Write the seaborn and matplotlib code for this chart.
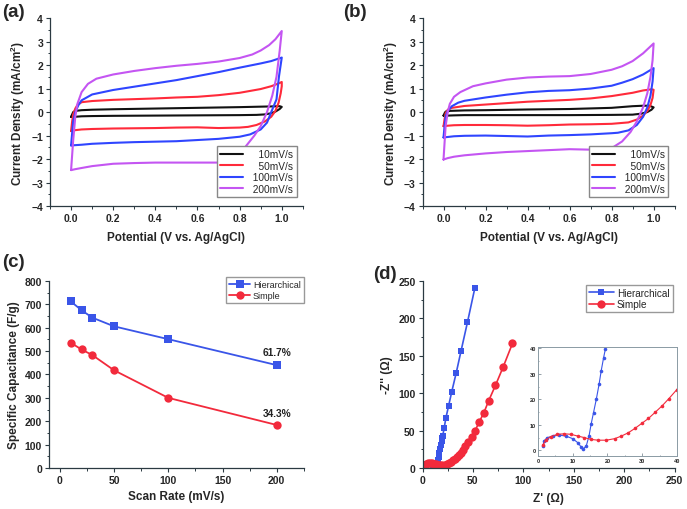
import numpy as np
import pandas as pd
import seaborn as sns
import matplotlib.pyplot as plt
from matplotlib.ticker import MultipleLocator

sns.set_theme(style="ticks")
plt.rcParams['font.family'] = ['Liberation Sans', 'DejaVu Sans']
plt.rcParams['mathtext.fontset'] = 'custom'
plt.rcParams['mathtext.rm'] = 'Liberation Sans'
plt.rcParams['mathtext.bf'] = 'Liberation Sans:bold'

# ---- (a) CV loops, hierarchical electrode ----
a10_v = [0.0, 0.005, 0.01, 0.02, 0.05, 0.1, 0.2, 0.4, 0.6, 0.8, 0.9, 0.95, 0.99, 1.0,
         0.99, 0.97, 0.95, 0.92, 0.88, 0.8, 0.6, 0.4, 0.2, 0.1, 0.05, 0.02, 0.0]
a10_j = [-0.2, -0.1, 0.0, 0.05, 0.08, 0.1, 0.12, 0.15, 0.18, 0.21, 0.23, 0.24, 0.25, 0.22,
         0.13, 0.02, -0.05, -0.1, -0.12, -0.13, -0.14, -0.15, -0.16, -0.17, -0.18, -0.2, -0.2]
a50_v = [0.0, 0.005, 0.01, 0.02, 0.03, 0.05, 0.1, 0.2, 0.3, 0.4, 0.5, 0.6, 0.7, 0.8, 0.9, 0.95, 0.98, 1.0,
         1.0, 0.995, 0.985, 0.97, 0.95, 0.92, 0.88, 0.84, 0.8, 0.7, 0.6, 0.5, 0.4, 0.3, 0.2, 0.1, 0.05, 0.02, 0.0]
a50_j = [-0.81, -0.4, -0.1, 0.15, 0.3, 0.42, 0.47, 0.52, 0.55, 0.58, 0.62, 0.65, 0.72, 0.82, 0.98, 1.1, 1.2, 1.28,
         1.1, 0.8, 0.4, 0.05, -0.2, -0.4, -0.55, -0.63, -0.66, -0.68, -0.65, -0.66, -0.68, -0.69, -0.7, -0.72, -0.74, -0.77, -0.81]
a100_v = [0.0, 0.005, 0.01, 0.02, 0.035, 0.05, 0.1, 0.2, 0.3, 0.4, 0.5, 0.6, 0.7, 0.8, 0.9, 0.95, 1.0,
          0.987, 0.975, 0.95, 0.93, 0.9, 0.85, 0.8, 0.7, 0.6, 0.5, 0.4, 0.3, 0.2, 0.1, 0.05, 0.0]
a100_j = [-1.42, -0.9, -0.4, 0.0, 0.3, 0.5, 0.75, 0.94, 1.08, 1.22, 1.36, 1.53, 1.7, 1.89, 2.07, 2.17, 2.32,
          1.53, 0.54, 0.0, -0.45, -0.74, -0.95, -1.05, -1.14, -1.19, -1.24, -1.26, -1.28, -1.31, -1.35, -1.39, -1.42]
a200_v = [0.0, 0.01, 0.02, 0.03, 0.05, 0.08, 0.12, 0.2, 0.3, 0.4, 0.5, 0.6, 0.7, 0.8, 0.86, 0.9, 0.94, 0.97, 1.0,
          0.99, 0.975, 0.955, 0.93, 0.9, 0.87, 0.83, 0.8, 0.76, 0.7, 0.6, 0.5, 0.4, 0.3, 0.2, 0.1, 0.05, 0.02, 0.0]
a200_j = [-2.47, -1.2, -0.2, 0.35, 0.85, 1.2, 1.42, 1.6, 1.75, 1.87, 1.97, 2.05, 2.15, 2.3, 2.45, 2.62, 2.85, 3.1, 3.45,
          2.6, 1.5, 0.7, 0.0, -0.6, -1.0, -1.45, -1.85, -2.05, -2.15, -2.15, -2.15, -2.15, -2.17, -2.2, -2.3, -2.38, -2.43, -2.47]

# ---- (b) CV loops, simple electrode ----
b10_v = [0.0, 0.005, 0.01, 0.03, 0.1, 0.2, 0.4, 0.6, 0.8, 0.9, 0.95, 0.98, 1.0,
         0.99, 0.97, 0.94, 0.9, 0.8, 0.6, 0.4, 0.2, 0.1, 0.05, 0.02, 0.0]
b10_j = [-0.15, -0.05, 0.02, 0.05, 0.07, 0.08, 0.11, 0.13, 0.18, 0.25, 0.27, 0.27, 0.2,
         0.1, 0.0, -0.07, -0.11, -0.12, -0.13, -0.13, -0.13, -0.13, -0.14, -0.15, -0.15]
b50_v = [0.0, 0.005, 0.01, 0.02, 0.04, 0.07, 0.1, 0.2, 0.3, 0.4, 0.5, 0.6, 0.7, 0.8, 0.9, 0.95, 0.99, 1.0,
         0.995, 0.985, 0.97, 0.95, 0.92, 0.88, 0.8, 0.7, 0.6, 0.5, 0.4, 0.3, 0.2, 0.1, 0.05, 0.02, 0.0]
b50_j = [-0.6, -0.3, -0.05, 0.1, 0.18, 0.22, 0.26, 0.32, 0.38, 0.44, 0.48, 0.52, 0.58, 0.68, 0.82, 0.92, 0.97, 0.95,
         0.6, 0.3, 0.05, -0.15, -0.32, -0.44, -0.5, -0.52, -0.53, -0.56, -0.58, -0.56, -0.55, -0.55, -0.56, -0.58, -0.6]
b100_v = [0.0, 0.005, 0.01, 0.02, 0.04, 0.07, 0.1, 0.2, 0.3, 0.4, 0.5, 0.6, 0.7, 0.8, 0.85, 0.9, 0.95, 1.0,
          0.995, 0.985, 0.97, 0.95, 0.92, 0.88, 0.83, 0.8, 0.7, 0.6, 0.5, 0.4, 0.3, 0.2, 0.1, 0.05, 0.02, 0.0]
b100_j = [-1.08, -0.6, -0.2, 0.05, 0.25, 0.4, 0.48, 0.62, 0.74, 0.84, 0.9, 0.93, 1.0, 1.12, 1.25, 1.4, 1.6, 1.87,
          1.3, 0.7, 0.2, -0.2, -0.55, -0.78, -0.88, -0.9, -0.95, -0.98, -1.0, -1.04, -1.02, -1.0, -1.01, -1.03, -1.06, -1.08]
b200_v = [0.0, 0.005, 0.01, 0.02, 0.03, 0.05, 0.08, 0.14, 0.2, 0.3, 0.4, 0.5, 0.6, 0.7, 0.8, 0.85, 0.9, 0.95, 1.0,
          0.995, 0.985, 0.97, 0.95, 0.92, 0.89, 0.85, 0.81, 0.76, 0.7, 0.6, 0.5, 0.4, 0.3, 0.2, 0.1, 0.05, 0.02, 0.0]
b200_j = [-2.02, -1.3, -0.6, 0.0, 0.35, 0.65, 0.85, 1.1, 1.22, 1.38, 1.47, 1.51, 1.53, 1.62, 1.8, 1.95, 2.17, 2.5, 2.92,
          2.2, 1.5, 0.8, 0.2, -0.4, -0.85, -1.25, -1.48, -1.58, -1.6, -1.58, -1.62, -1.66, -1.7, -1.76, -1.84, -1.9, -1.96, -2.02]

rates = ["10mV/s", "50mV/s", "100mV/s", "200mV/s"]
rate_labels = ["    10mV/s", "    50mV/s", "  100mV/s", "  200mV/s"]
cv_colors = ["#111111", "#ff2a3a", "#2f45ff", "#c455f2"]

# ---- (c) specific capacitance vs scan rate ----
scan_rate = [10, 20, 30, 50, 100, 200]
cap_hier = [713, 675, 643, 606, 551, 440]
cap_simple = [536, 507, 483, 418, 300, 184]

# ---- (d) Nyquist plots ----
hier_zre = [1.45, 1.75, 2.7, 4.2, 6.1, 8.1, 10.0, 11.5, 12.4, 13.1, 13.9, 14.7, 15.3, 16.0, 16.8, 17.6, 18.2, 18.9, 19.4,
            20.1, 21.5, 23.1, 25.8, 29.0, 33.4, 38.3, 44.6, 51.8]
hier_zim = [1.7, 3.7, 5.0, 5.6, 6.0, 5.6, 4.6, 3.0, 1.4, 0.65, 1.7, 5.6, 10.2, 14.8, 20.0, 25.9, 31.1, 36.3, 39.6,
            43.3, 53.6, 66.5, 82.6, 102, 127, 157, 195, 240]
simp_zre = [1.45, 2.2, 3.7, 5.6, 7.6, 9.5, 11.5, 13.4, 15.3, 17.3, 19.7, 22.1, 24.0, 26.0, 27.9, 29.9, 31.8, 33.8, 35.7,
            37.7, 39.9, 42.5, 45.2, 48.9, 52.2, 56.1, 60.8, 65.7, 72.3, 79.9, 89.2]
simp_zim = [2.0, 4.0, 5.4, 6.3, 6.5, 6.3, 5.6, 5.0, 4.3, 4.0, 4.0, 4.6, 5.6, 6.9, 8.6, 10.6, 12.5, 15.0, 17.4,
            20.3, 23.7, 29.0, 34.4, 42.0, 50.0, 61.2, 73.7, 90.2, 110.3, 134.8, 166.5]

blue = "#3a55e8"
red = "#f22a3c"
spine_c = "#2b3a42"

fig = plt.figure(figsize=(6.87, 5.10), dpi=100)
ax_a = fig.add_axes([0.0728, 0.594, 0.368, 0.3686])
ax_b = fig.add_axes([0.615, 0.594, 0.367, 0.3686])
ax_c = fig.add_axes([0.0713, 0.0804, 0.371, 0.3667])
ax_d = fig.add_axes([0.615, 0.0804, 0.367, 0.3667])


def style_axis(ax):
    sns.despine(ax=ax)
    for s in ["left", "bottom"]:
        ax.spines[s].set_color(spine_c)
        ax.spines[s].set_linewidth(0.9)
    ax.tick_params(which="major", length=3, width=0.8, color=spine_c, labelsize=7.5, pad=2)
    ax.tick_params(which="minor", length=1.8, width=0.7, color=spine_c)
    for t in ax.get_xticklabels() + ax.get_yticklabels():
        t.set_fontweight("bold")


def draw_cv(ax, loops):
    for (v, j), lab, col in zip(loops, rate_labels, cv_colors):
        sns.lineplot(x=v, y=j, sort=False, estimator=None, color=col, lw=1.5, label=lab, ax=ax)
    ax.set_xlim(-0.1, 1.1)
    ax.set_ylim(-4, 4)
    ax.xaxis.set_major_locator(MultipleLocator(0.2))
    ax.xaxis.set_minor_locator(MultipleLocator(0.1))
    ax.yaxis.set_major_locator(MultipleLocator(1))
    ax.yaxis.set_minor_locator(MultipleLocator(0.5))
    ax.set_xticks(np.arange(0, 1.01, 0.2))
    ax.set_xticklabels([f"{t:.1f}" for t in np.arange(0, 1.01, 0.2)])
    ax.set_xlabel("Potential (V vs. Ag/AgCl)", fontsize=8.5, fontweight="bold", labelpad=6)
    ax.set_ylabel(r"Current Density (mA/cm$^{\mathbf{2}}$)", fontsize=8.5, fontweight="bold", labelpad=3)
    style_axis(ax)
    ax.legend(loc="lower right", bbox_to_anchor=(0.975, 0.05), fontsize=7.3, handlelength=2.3,
              frameon=True, fancybox=False, edgecolor="#888888", framealpha=1,
              borderpad=0.3, labelspacing=0.15, handletextpad=0.4, borderaxespad=0)


draw_cv(ax_a, [(a10_v, a10_j), (a50_v, a50_j), (a100_v, a100_j), (a200_v, a200_j)])
draw_cv(ax_b, [(b10_v, b10_j), (b50_v, b50_j), (b100_v, b100_j), (b200_v, b200_j)])

# (c)
sns.lineplot(x=scan_rate, y=cap_hier, color=blue, lw=1.3, marker="s", markersize=5.5,
             markeredgewidth=0, label="Hierarchical", ax=ax_c)
sns.lineplot(x=scan_rate, y=cap_simple, color=red, lw=1.3, marker="o", markersize=6,
             markeredgewidth=0, label="Simple", ax=ax_c)
ax_c.set_xlim(-10, 225)
ax_c.set_ylim(0, 800)
ax_c.xaxis.set_major_locator(MultipleLocator(50))
ax_c.xaxis.set_minor_locator(MultipleLocator(25))
ax_c.yaxis.set_major_locator(MultipleLocator(100))
ax_c.yaxis.set_minor_locator(MultipleLocator(50))
ax_c.set_xlabel("Scan Rate (mV/s)", fontsize=8.5, fontweight="bold", labelpad=4)
ax_c.set_ylabel("Specific Capacitance (F/g)", fontsize=8.5, fontweight="bold", labelpad=3)
ax_c.text(scan_rate[-1], 496, "61.7%", ha="center", va="center", fontsize=7.3, fontweight="bold", color="#222222")
ax_c.text(scan_rate[-1], 237, "34.3%", ha="center", va="center", fontsize=7.3, fontweight="bold", color="#222222")
style_axis(ax_c)
ax_c.legend(loc="upper right", bbox_to_anchor=(1.0, 1.02), fontsize=6.5, handlelength=2.3,
            frameon=True, fancybox=False, edgecolor="#999999", framealpha=1,
            borderpad=0.35, labelspacing=0.2, handletextpad=0.3, borderaxespad=0)

# (d)
sns.lineplot(x=hier_zre, y=hier_zim, sort=False, estimator=None, color=blue, lw=1.2, marker="s",
             markersize=5, markeredgewidth=0, label="Hierarchical", ax=ax_d)
sns.lineplot(x=simp_zre, y=simp_zim, sort=False, estimator=None, color=red, lw=1.2, marker="o",
             markersize=6, markeredgewidth=0, label="Simple", ax=ax_d)
ax_d.set_xlim(0, 250)
ax_d.set_ylim(0, 250)
ax_d.xaxis.set_major_locator(MultipleLocator(50))
ax_d.xaxis.set_minor_locator(MultipleLocator(25))
ax_d.yaxis.set_major_locator(MultipleLocator(50))
ax_d.yaxis.set_minor_locator(MultipleLocator(25))
ax_d.set_xlabel("Z' (Ω)", fontsize=8.5, fontweight="bold", labelpad=5)
ax_d.set_ylabel("-Z'' (Ω)", fontsize=8.5, fontweight="bold", labelpad=4)
style_axis(ax_d)
ax_d.legend(loc="upper right", bbox_to_anchor=(0.992, 0.98), fontsize=7.2, handlelength=2.5,
            frameon=True, fancybox=False, edgecolor="#999999", framealpha=1,
            borderpad=0.3, labelspacing=0.15, handletextpad=0.3, borderaxespad=0)

# inset of (d)
ax_in = fig.add_axes([0.783, 0.1039, 0.2023, 0.2137])
sns.lineplot(x=hier_zre, y=hier_zim, sort=False, estimator=None, color=blue, lw=0.8, marker="o",
             markersize=2.6, markeredgewidth=0, ax=ax_in)
sns.lineplot(x=simp_zre, y=simp_zim, sort=False, estimator=None, color=red, lw=0.8, marker="o",
             markersize=2.6, markeredgewidth=0, ax=ax_in)
ax_in.set_xlim(0, 40)
ax_in.set_ylim(-2.2, 40.5)
ax_in.set_xticks([0, 10, 20, 30, 40])
ax_in.set_yticks([0, 10, 20, 30, 40])
ax_in.xaxis.set_minor_locator(MultipleLocator(5))
ax_in.yaxis.set_minor_locator(MultipleLocator(5))
for s in ax_in.spines.values():
    s.set_color("#8a9aa4")
    s.set_linewidth(0.7)
ax_in.tick_params(which="both", direction="in", color="#6a7a84", labelsize=4, pad=1.5, width=0.5)
ax_in.tick_params(which="major", length=2)
ax_in.tick_params(which="minor", length=1)
for t in ax_in.get_xticklabels() + ax_in.get_yticklabels():
    t.set_fontweight("bold")

# panel letters
for txt, x, y in [("(a)", 0.003, 0.976), ("(b)", 0.499, 0.976), ("(c)", 0.003, 0.486), ("(d)", 0.543, 0.462)]:
    fig.text(x, y, txt, fontsize=13.5, fontweight="bold", ha="left", va="center")

fig.savefig("out.png", dpi=100)
